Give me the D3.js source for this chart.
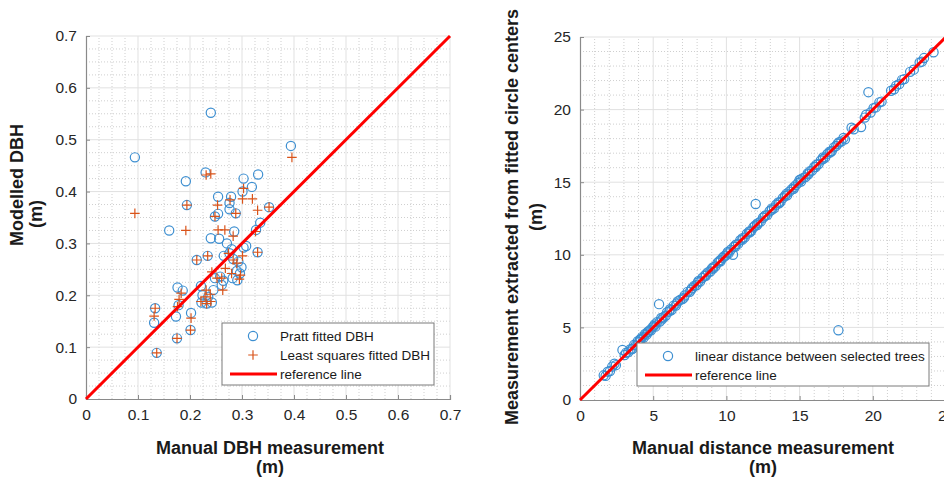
<!DOCTYPE html>
<html>
<head>
<meta charset="utf-8">
<script src="https://cdn.jsdelivr.net/npm/d3@7"></script>
<style>
  body { margin: 0; background: #fff; }
  svg { display: block; font-family: "Liberation Sans", Arial, sans-serif; }
  .tick-label { font-size: 15.5px; fill: #262626; }
  .title { font-size: 18px; font-weight: bold; fill: #1a1a1a; }
  .legend-text { font-size: 13.5px; fill: #1a1a1a; }
</style>
</head>
<body>
<div id="graphContainer"></div>
<script>
// 
// data
// 

// left panel: manual DBH vs Pratt circle fit [manual, modelled] (m)
var prattDBH = [
    [0.240, 0.552], [0.094, 0.466], [0.394, 0.488], [0.230, 0.437], [0.192, 0.420],
    [0.303, 0.425], [0.331, 0.433], [0.319, 0.409], [0.301, 0.400], [0.254, 0.390],
    [0.279, 0.390], [0.276, 0.378], [0.276, 0.366], [0.194, 0.374], [0.288, 0.358],
    [0.352, 0.370], [0.248, 0.352], [0.254, 0.357], [0.335, 0.340], [0.327, 0.326],
    [0.285, 0.323], [0.160, 0.325], [0.240, 0.310], [0.256, 0.309], [0.271, 0.300],
    [0.308, 0.295], [0.303, 0.292], [0.280, 0.289], [0.330, 0.283], [0.213, 0.268],
    [0.234, 0.276], [0.265, 0.276], [0.276, 0.281], [0.283, 0.270], [0.293, 0.265],
    [0.299, 0.254], [0.290, 0.247], [0.296, 0.242], [0.258, 0.236], [0.248, 0.233],
    [0.264, 0.228], [0.282, 0.233], [0.291, 0.229], [0.221, 0.218], [0.245, 0.210],
    [0.261, 0.220], [0.176, 0.215], [0.186, 0.209], [0.224, 0.200], [0.235, 0.197],
    [0.222, 0.186], [0.242, 0.186], [0.232, 0.184], [0.133, 0.175], [0.178, 0.181],
    [0.202, 0.166], [0.131, 0.147], [0.173, 0.159], [0.201, 0.133], [0.175, 0.117],
    [0.136, 0.089]
];

// left panel: manual DBH vs least squares circle fit [manual, modelled] (m)
var lsqDBH = [
    [0.396, 0.466], [0.094, 0.358], [0.231, 0.432], [0.240, 0.434], [0.194, 0.374],
    [0.192, 0.325], [0.303, 0.406], [0.301, 0.386], [0.320, 0.386], [0.277, 0.384],
    [0.253, 0.374], [0.330, 0.364], [0.352, 0.370], [0.288, 0.358], [0.248, 0.352],
    [0.254, 0.326], [0.267, 0.326], [0.283, 0.314], [0.326, 0.323], [0.330, 0.283],
    [0.213, 0.268], [0.234, 0.276], [0.274, 0.281], [0.283, 0.268], [0.301, 0.276],
    [0.290, 0.262], [0.242, 0.245], [0.268, 0.252], [0.280, 0.242], [0.297, 0.239],
    [0.252, 0.233], [0.261, 0.233], [0.295, 0.231], [0.263, 0.210], [0.231, 0.210],
    [0.239, 0.202], [0.229, 0.197], [0.221, 0.188], [0.240, 0.188], [0.179, 0.192],
    [0.183, 0.204], [0.176, 0.178], [0.133, 0.175], [0.131, 0.160], [0.202, 0.156],
    [0.201, 0.133], [0.175, 0.117], [0.136, 0.089], [0.232, 0.184]
];

// right panel: manual distance vs distance between fitted centres [manual, extracted] (m)
var treeDistances = [
    [1.62, 1.70], [1.75, 1.66], [1.90, 1.95], [2.05, 2.00], [2.20, 2.30], [2.35, 2.50],
    [2.45, 2.40], [2.90, 3.45], [3.05, 3.10], [3.15, 3.25], [3.30, 3.30], [3.45, 3.50],
    [3.55, 3.50], [3.70, 3.80], [3.80, 3.75], [3.95, 4.05], [4.05, 4.00], [4.15, 4.20],
    [4.25, 4.35], [4.35, 4.30], [4.45, 4.55], [4.55, 4.50], [4.65, 4.70], [4.75, 4.80],
    [4.85, 4.80], [4.95, 5.00], [5.05, 5.10], [5.15, 5.05], [5.25, 5.35], [5.40, 6.60],
    [5.45, 5.40], [5.55, 5.65], [5.70, 5.70], [5.85, 5.80], [5.95, 6.05], [6.10, 6.10],
    [6.25, 6.20], [6.40, 6.50], [6.55, 6.50], [6.70, 6.80], [6.85, 6.90], [7.00, 6.95],
    [7.15, 7.20], [7.35, 7.45], [7.50, 7.45], [7.65, 7.70], [7.80, 7.85], [7.95, 7.90],
    [8.05, 8.10], [8.20, 8.15], [8.35, 8.40], [8.50, 8.55], [8.60, 8.55], [8.75, 8.80],
    [8.90, 8.85], [9.00, 9.05], [9.10, 9.15], [9.25, 9.20], [9.40, 9.45], [9.50, 9.55],
    [9.60, 9.55], [9.75, 9.80], [9.85, 9.90], [9.95, 9.95], [10.05, 10.10], [10.15, 10.10],
    [10.30, 10.35], [10.45, 10.00], [10.50, 10.55], [10.65, 10.70], [10.80, 10.75], [10.95, 11.00],
    [11.10, 11.15], [11.25, 11.20], [11.40, 11.45], [11.55, 11.60], [11.70, 11.65], [11.85, 11.90],
    [11.95, 12.00], [12.00, 13.50], [12.10, 12.15], [12.20, 12.20], [12.35, 12.30], [12.50, 12.55],
    [12.65, 12.70], [12.80, 12.75], [12.95, 13.00], [13.10, 13.10], [13.25, 13.20], [13.40, 13.45],
    [13.55, 13.60], [13.70, 13.65], [13.85, 13.90], [14.00, 14.05], [14.15, 14.10], [14.30, 14.35],
    [14.45, 14.50], [14.60, 14.55], [14.75, 14.80], [14.90, 14.95], [15.00, 15.15], [15.10, 15.05],
    [15.25, 15.30], [15.40, 15.35], [15.55, 15.60], [15.70, 15.75], [15.85, 15.80], [16.00, 16.05],
    [16.15, 16.20], [16.30, 16.25], [16.45, 16.50], [16.60, 16.60], [16.75, 16.70], [16.90, 16.95],
    [17.05, 17.10], [17.20, 17.15], [17.35, 17.40], [17.50, 17.50], [17.65, 4.80], [17.70, 17.75],
    [17.85, 17.80], [18.00, 18.05], [18.10, 17.95], [18.55, 18.75], [18.70, 18.65], [19.20, 18.80],
    [19.45, 19.45], [19.55, 19.65], [19.70, 21.20], [19.85, 19.80], [20.05, 20.10], [20.20, 20.15],
    [20.45, 20.50], [20.60, 20.55], [21.25, 21.30], [21.45, 21.40], [21.60, 21.65], [21.80, 21.75],
    [22.00, 22.05], [22.15, 22.10], [22.55, 22.60], [22.80, 22.75], [23.20, 23.25], [23.35, 23.30],
    [23.50, 23.55], [24.15, 23.95],
    [3.60, 3.55], [4.10, 4.15], [4.60, 4.65], [5.10, 5.20], [5.60, 5.55], [6.15, 6.25],
    [6.60, 6.65], [7.10, 7.05], [7.60, 7.60], [8.10, 8.20], [8.60, 8.65], [9.10, 9.05],
    [9.60, 9.65], [10.10, 10.20], [10.60, 10.55], [11.10, 11.05], [11.60, 11.55], [12.10, 12.05],
    [12.60, 12.65], [13.10, 13.20], [13.60, 13.55], [14.10, 14.20], [14.60, 14.65], [15.10, 15.20],
    [15.60, 15.55], [16.10, 16.05], [16.60, 16.70], [17.10, 17.05], [17.60, 17.65]
];

// tick values
var dbhTicks = [0, 0.1, 0.2, 0.3, 0.4, 0.5, 0.6, 0.7];
var distTicks = [0, 5, 10, 15, 20, 25];

var blue = "#3d8fd1";
var orange = "#d95319";
var red = "#ff0000";

var svg = d3.select("#graphContainer").append("svg")
    .attr("width", 944)
    .attr("height", 479);

// 
// draws grid, axes, tick labels and the 1:1 reference line for one panel
// 
function drawFrame(x, y, ticks, minorStep, fmt) {
    var g = svg.append("g");
    var xr = x.range(), yr = y.range();
    var dom = x.domain();

    // minor dotted grid
    var minor = d3.range(dom[0], dom[1] + minorStep / 2, minorStep)
        .filter(function(v) { return ticks.every(function(t) { return Math.abs(t - v) > 1e-9; }); });
    g.selectAll(".mx").data(minor).enter().append("line")
        .attr("x1", function(d) { return x(d); }).attr("x2", function(d) { return x(d); })
        .attr("y1", yr[0]).attr("y2", yr[1])
        .attr("stroke", "#cfcfcf").attr("stroke-dasharray", "1,2");
    g.selectAll(".my").data(minor).enter().append("line")
        .attr("y1", function(d) { return y(d); }).attr("y2", function(d) { return y(d); })
        .attr("x1", xr[0]).attr("x2", xr[1])
        .attr("stroke", "#cfcfcf").attr("stroke-dasharray", "1,2");

    // major grid
    g.selectAll(".gx").data(ticks.slice(1)).enter().append("line")
        .attr("x1", function(d) { return x(d); }).attr("x2", function(d) { return x(d); })
        .attr("y1", yr[0]).attr("y2", yr[1])
        .attr("stroke", "#e1e1e1");
    g.selectAll(".gy").data(ticks.slice(1)).enter().append("line")
        .attr("y1", function(d) { return y(d); }).attr("y2", function(d) { return y(d); })
        .attr("x1", xr[0]).attr("x2", xr[1])
        .attr("stroke", "#e1e1e1");

    // axes (ticks pointing inward)
    var xAxis = d3.axisBottom(x).tickValues(ticks).tickSize(-4).tickPadding(10).tickFormat(fmt);
    var yAxis = d3.axisLeft(y).tickValues(ticks).tickSize(-4).tickPadding(9).tickFormat(fmt);

    var gx = g.append("g").attr("transform", "translate(0," + yr[0] + ")").call(xAxis);
    var gy = g.append("g").attr("transform", "translate(" + xr[0] + ",0)").call(yAxis);
    [gx, gy].forEach(function(a) {
        a.select(".domain").attr("stroke", "#8a8a8a").attr("stroke-width", 1.2);
        a.selectAll(".tick line").attr("stroke", "#8a8a8a");
        a.selectAll(".tick text").attr("class", "tick-label").attr("fill", null);
        a.attr("font-family", null).attr("font-size", null);
    });

    return g;
}

function drawRefLine(x, y) {
    var dom = x.domain();
    svg.append("line")
        .attr("x1", x(dom[0])).attr("y1", y(dom[0]))
        .attr("x2", x(dom[1])).attr("y2", y(dom[1]))
        .attr("stroke", red).attr("stroke-width", 3);
}

function drawCircles(data, x, y) {
    svg.append("g").selectAll("circle").data(data).enter().append("circle")
        .attr("cx", function(d) { return x(d[0]); })
        .attr("cy", function(d) { return y(d[1]); })
        .attr("r", 4.6)
        .attr("fill", "none")
        .attr("stroke", blue)
        .attr("stroke-width", 1.2);
}

function plusPath(cx, cy, s) {
    return "M" + (cx - s) + "," + cy + "H" + (cx + s) + "M" + cx + "," + (cy - s) + "V" + (cy + s);
}

function drawPlus(data, x, y) {
    svg.append("g").selectAll("path").data(data).enter().append("path")
        .attr("d", function(d) { return plusPath(x(d[0]), y(d[1]), 4.8); })
        .attr("stroke", orange)
        .attr("stroke-width", 1.2)
        .attr("fill", "none");
}

function title(txt, px, py, rotate) {
    var t = svg.append("text")
        .attr("class", "title")
        .attr("text-anchor", "middle")
        .text(txt);
    if (rotate) {
        t.attr("transform", "translate(" + px + "," + py + ") rotate(-90)");
    } else {
        t.attr("x", px).attr("y", py);
    }
}

function legend(x0, y0, w, rows) {
    var g = svg.append("g");
    g.append("rect")
        .attr("x", x0).attr("y", y0).attr("width", w).attr("height", rows.length * 19 + 5)
        .attr("fill", "#fff").attr("stroke", "#7a7a7a").attr("stroke-width", 1);
    rows.forEach(function(r, i) {
        var cy = y0 + 13 + i * 19;
        var mx = x0 + 31;
        if (r.type === "circle") {
            g.append("circle").attr("cx", mx).attr("cy", cy).attr("r", 4.6)
                .attr("fill", "none").attr("stroke", blue).attr("stroke-width", 1.2);
        } else if (r.type === "plus") {
            g.append("path").attr("d", plusPath(mx, cy, 4.8))
                .attr("stroke", orange).attr("stroke-width", 1.2);
        } else {
            g.append("line").attr("x1", x0 + 8).attr("x2", x0 + 55)
                .attr("y1", cy).attr("y2", cy)
                .attr("stroke", red).attr("stroke-width", 3);
        }
        g.append("text").attr("class", "legend-text")
            .attr("x", x0 + 58).attr("y", cy + 5)
            .text(r.label);
    });
}

// 
// left panel: DBH
// 
var xL = d3.scaleLinear().domain([0, 0.7]).range([86, 450]);
var yL = d3.scaleLinear().domain([0, 0.7]).range([399, 36]);
drawFrame(xL, yL, dbhTicks, 0.025, function(d) { return d === 0 ? "0" : d3.format(".1f")(d); });
drawCircles(prattDBH, xL, yL);
drawPlus(lsqDBH, xL, yL);
drawRefLine(xL, yL);
legend(222, 323, 212, [
    { type: "circle", label: "Pratt fitted DBH" },
    { type: "plus", label: "Least squares fitted DBH" },
    { type: "line", label: "reference line" }
]);
title("Manual DBH measurement", 270, 454, false);
title("(m)", 270, 473, false);
title("Modelled DBH", 23, 185, true);
title("(m)", 42, 214, true);

// 
// right panel: tree to tree distances
// 
var xR = d3.scaleLinear().domain([0, 25]).range([580, 946]);
var yR = d3.scaleLinear().domain([0, 25]).range([400, 37]);
drawFrame(xR, yR, distTicks, 1, d3.format("d"));
drawCircles(treeDistances, xR, yR);
drawRefLine(xR, yR);
legend(637, 343, 292, [
    { type: "circle", label: "linear distance between selected trees" },
    { type: "line", label: "reference line" }
]);
title("Manual distance measurement", 763, 454, false);
title("(m)", 763, 473, false);
title("Measurement extracted from fitted circle centers", 518, 217, true);
title("(m)", 542, 217, true);
</script>
</body>
</html>
